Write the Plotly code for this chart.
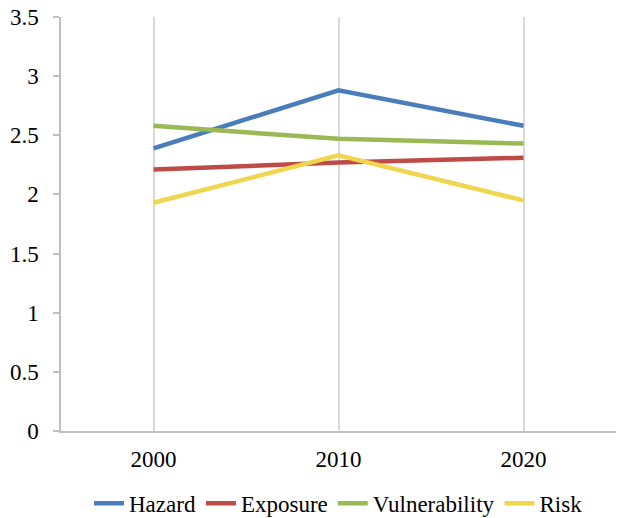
import plotly.graph_objects as go

years = ["2000", "2010", "2020"]
hazard = [2.39, 2.88, 2.58]
exposure = [2.21, 2.27, 2.31]
vulnerability = [2.58, 2.47, 2.43]
risk = [1.93, 2.33, 1.95]

series = [
    ("Hazard", hazard, "#4A7EBB"),
    ("Exposure", exposure, "#BE4B48"),
    ("Vulnerability", vulnerability, "#98B954"),
    ("Risk", risk, "#F0D54F"),
]

font_family = "Liberation Serif, serif"

fig = go.Figure()
for name, vals, color in series:
    fig.add_trace(go.Scatter(
        x=years, y=vals, name=name, mode="lines",
        line=dict(color=color, width=4.5),
    ))

fig.update_layout(
    width=617, height=518,
    margin=dict(l=61, r=1, t=17, b=87),
    paper_bgcolor="white", plot_bgcolor="white",
    font=dict(family=font_family, size=23, color="#000000"),
    showlegend=True,
    legend=dict(
        orientation="h", x=0.5, xanchor="center",
        yref="container", y=0.07, yanchor="top",
        font=dict(family=font_family, size=23),
        itemwidth=30, tracegroupgap=0,
    ),
    xaxis=dict(
        type="category", range=[-0.5, 2.5],
        showgrid=True, gridcolor="#D9D9D9", gridwidth=1.5,
        showline=True, linecolor="#BFBFBF", linewidth=1.5,
        ticks="", ticklabelstandoff=7,
        zeroline=False,
    ),
    yaxis=dict(
        range=[0, 3.5], dtick=0.5,
        tickvals=[0, 0.5, 1, 1.5, 2, 2.5, 3, 3.5],
        ticktext=["0", "0.5", "1", "1.5", "2", "2.5", "3", "3.5"],
        showgrid=False, zeroline=False,
        showline=True, linecolor="#BFBFBF", linewidth=1.5,
        ticks="outside", ticklen=6, tickcolor="#BFBFBF", tickwidth=1.5,
        ticklabelstandoff=10,
    ),
)

fig.write_html("out.html")
